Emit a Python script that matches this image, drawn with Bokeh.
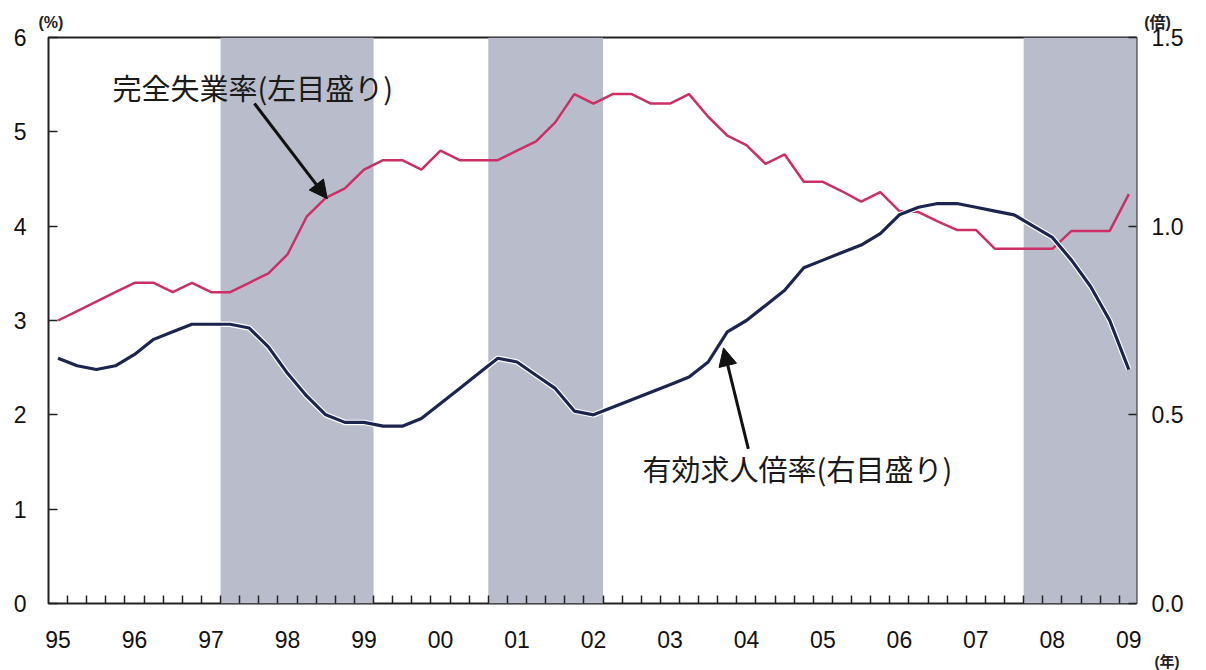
from bokeh.plotting import figure
from bokeh.models import (Range1d, LinearAxis, FixedTicker, Label, Arrow, NormalHead,
                          PrintfTickFormatter, ColumnDataSource, Title)
from bokeh.embed import file_html
from bokeh.resources import INLINE

# ---------------- data (quarterly, 1995Q1 .. 2009Q1) ----------------
year_labels = ["95", "96", "97", "98", "99", "00", "01", "02", "03", "04", "05", "06", "07", "08", "09"]
quarter_index = list(range(57))

# 完全失業率 (%), left scale
unemployment = [3.0, 3.1, 3.2, 3.3, 3.4, 3.4, 3.3, 3.4, 3.3, 3.3, 3.4, 3.5, 3.7, 4.1, 4.3, 4.4,
                4.6, 4.7, 4.7, 4.6, 4.8, 4.7, 4.7, 4.7, 4.8, 4.9, 5.1, 5.4, 5.3, 5.4, 5.4, 5.3,
                5.3, 5.4, 5.16, 4.96, 4.86, 4.66, 4.76, 4.47, 4.47, 4.37, 4.26, 4.36, 4.16, 4.15,
                4.05, 3.96, 3.96, 3.76, 3.76, 3.76, 3.76, 3.95, 3.95, 3.95, 4.34]

# 有効求人倍率 (倍), right scale
job_ratio = [0.65, 0.63, 0.62, 0.63, 0.66, 0.70, 0.72, 0.74, 0.74, 0.74, 0.73, 0.68, 0.61, 0.55,
             0.50, 0.48, 0.48, 0.47, 0.47, 0.49, 0.53, 0.57, 0.61, 0.65, 0.64, 0.605, 0.57, 0.51,
             0.50, 0.52, 0.54, 0.56, 0.58, 0.60, 0.64, 0.72, 0.75, 0.79, 0.83, 0.89, 0.91, 0.93,
             0.95, 0.98, 1.03, 1.05, 1.06, 1.06, 1.05, 1.04, 1.03, 1.00, 0.97, 0.91, 0.84, 0.75, 0.62]

# recession (shaded) periods, in quarter-index units (boundaries between quarters)
recession_start = [8.5, 22.5, 50.5]
recession_end = [16.5, 28.5, 56.5]

left_ticks = [0, 1, 2, 3, 4, 5, 6]
right_ticks = [0.0, 0.5, 1.0, 1.5]

# ---------------- styling ----------------
PINK = "#cc2e66"
NAVY = "#1c254e"
SHADE = "#b9bcca"
FRAME = "#222222"
NUM_FONT = "Liberation Sans Narrow, Liberation Sans, Arial"
CJK_FONT = "Noto Sans CJK JP"
UNIT_FONT = "Liberation Sans, Noto Sans CJK JP"

p = figure(width=1200, height=670, output_backend="svg", toolbar_location=None,
           x_range=Range1d(-0.5, 56.4), y_range=Range1d(0, 6),
           min_border_left=48, min_border_top=37, min_border_right=64, min_border_bottom=67)
p.extra_y_ranges = {"ratio": Range1d(0, 1.5)}
p.xgrid.visible = False
p.ygrid.visible = False
p.outline_line_color = FRAME
p.outline_line_width = 2
p.background_fill_color = "white"
p.border_fill_color = "white"

# shaded recession bands
p.quad(left=recession_start, right=recession_end, bottom=0, top=6,
       fill_color=SHADE, line_color=None)

# lines
src = ColumnDataSource(dict(q=quarter_index, u=unemployment, r=job_ratio))
p.line("q", "u", source=src, line_color=PINK, line_width=2.5)
p.line("q", "r", source=src, y_range_name="ratio", line_color="white", line_width=5.5)
p.line("q", "r", source=src, y_range_name="ratio", line_color=NAVY, line_width=3.2)

# x axis
xa = p.xaxis[0]
year_ticks = [i * 4 for i in range(len(year_labels))]
xa.ticker = FixedTicker(ticks=year_ticks, minor_ticks=[k + 0.5 for k in range(56)])
xa.major_label_overrides = {t: lab for t, lab in zip(year_ticks, year_labels)}
xa.major_tick_in = 0
xa.major_tick_out = 0
xa.minor_tick_in = 8
xa.minor_tick_out = 0
xa.minor_tick_line_color = FRAME
xa.minor_tick_line_width = 1.5
xa.axis_line_color = None
xa.major_label_standoff = 27
xa.major_label_text_font = NUM_FONT
xa.major_label_text_font_size = "23px"
xa.major_label_text_color = "#111111"

# left axis
ya = p.yaxis[0]
ya.ticker = FixedTicker(ticks=left_ticks)
ya.major_tick_in = 9
ya.major_tick_out = 0
ya.major_tick_line_color = FRAME
ya.major_tick_line_width = 1.5
ya.minor_tick_line_color = None
ya.axis_line_color = None
ya.major_label_standoff = 22
ya.major_label_text_font = NUM_FONT
ya.major_label_text_font_size = "23px"
ya.major_label_text_color = "#111111"

# right axis
ra = LinearAxis(y_range_name="ratio", ticker=FixedTicker(ticks=right_ticks),
                formatter=PrintfTickFormatter(format="%.1f"))
ra.major_tick_in = 8
ra.major_tick_out = 0
ra.major_tick_line_color = FRAME
ra.major_tick_line_width = 1.5
ra.minor_tick_line_color = None
ra.axis_line_color = None
ra.major_label_standoff = 15
ra.major_label_text_font = NUM_FONT
ra.major_label_text_font_size = "23px"
ra.major_label_text_color = "#111111"
p.add_layout(ra, "right")

# unit labels (as titles so that they are not clipped to the frame);
# the left "(%)" and the right "(倍)" share one line above the frame
gap = "\u3000" * 67 + "\u00a0" * 2
p.add_layout(Title(text="(%)" + gap + "(倍)", align="left", offset=-10, standoff=13,
                   text_font=UNIT_FONT, text_font_size="16px", text_font_style="bold",
                   text_color="#222222"), "above")
p.add_layout(Title(text="(年)", align="right", offset=-43, standoff=0,
                   text_font=UNIT_FONT, text_font_size="15px", text_font_style="bold",
                   text_color="#222222"), "below")

# series annotations
p.add_layout(Label(x=2.85, y=5.47, text="完全失業率(左目盛り)", text_font=CJK_FONT,
                   text_font_size="29px", text_baseline="middle", text_color="#1a1a1a"))
p.add_layout(Label(x=30.57, y=1.44, text="有効求人倍率(右目盛り)", text_font=CJK_FONT,
                   text_font_size="29px", text_baseline="middle", text_color="#1a1a1a"))

p.add_layout(Arrow(x_start=10.27, y_start=5.30, x_end=14.08, y_end=4.29, line_width=3,
                   line_color="#111111",
                   end=NormalHead(size=18, fill_color="#111111", line_color="#111111")))
p.add_layout(Arrow(x_start=36.1, y_start=1.64, x_end=34.8, y_end=2.71, line_width=3,
                   line_color="#111111",
                   end=NormalHead(size=18, fill_color="#111111", line_color="#111111")))

open("out.html", "w").write(file_html(p, INLINE))
